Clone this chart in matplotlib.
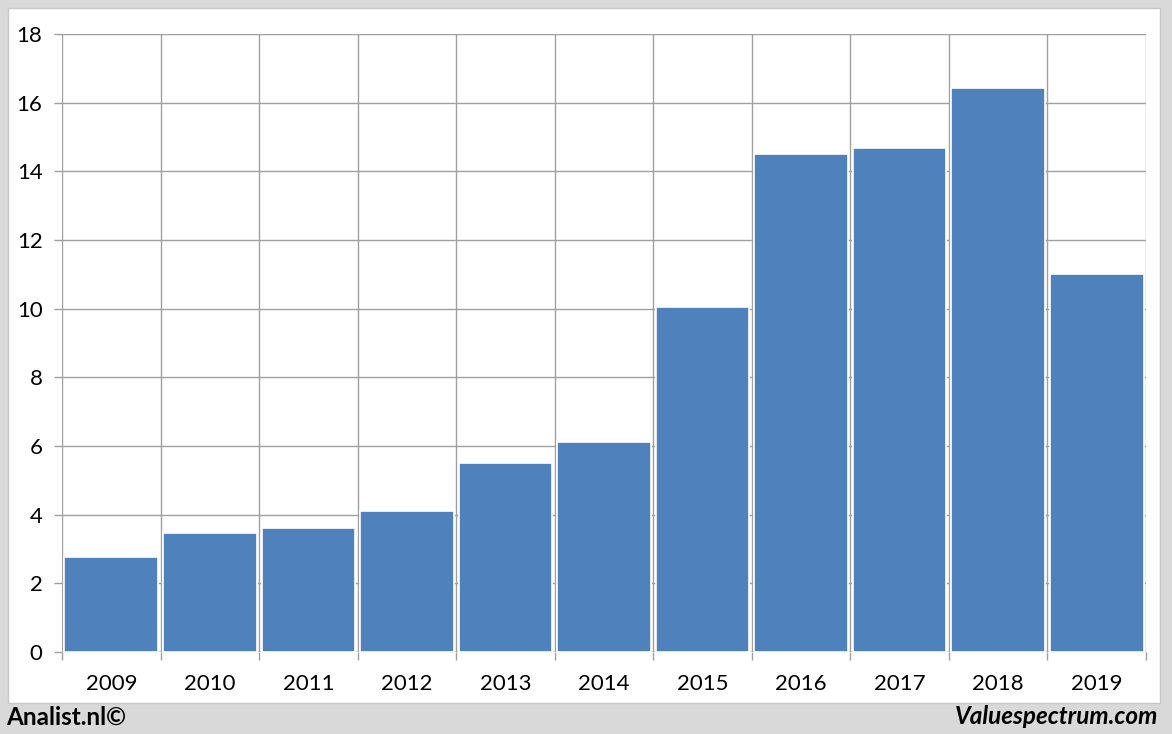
import matplotlib.pyplot as plt
from matplotlib.patches import Rectangle
import numpy as np

years = ["2009", "2010", "2011", "2012", "2013", "2014",
         "2015", "2016", "2017", "2018", "2019"]
values = [2.77, 3.47, 3.61, 4.11, 5.50, 6.12, 10.05, 14.50, 14.68, 16.43, 11.01]

plt.rcParams['font.family'] = ['Lato', 'DejaVu Sans']

W, H = 1172, 734
fig = plt.figure(figsize=(W / 100, H / 100), dpi=100)
fig.patch.set_facecolor("#d9d9d9")

# white chart panel
fig.patches.append(Rectangle((8 / W, 1 - 703 / H), (1160 - 8) / W, (703 - 8) / H,
                             transform=fig.transFigure, facecolor="white",
                             edgecolor="#c8c8c8", linewidth=1, zorder=-5))

ax = fig.add_axes([62 / W, 1 - 652 / H, (1146 - 62) / W, (652 - 34) / H])
ax.set_facecolor("none")

x = np.arange(len(years))
ax.bar(x, values, width=0.95, color="#4f81bd", edgecolor="white", linewidth=1.2, zorder=3)

ax.set_xlim(-0.5, len(years) - 0.5)
ax.set_ylim(0, 18)
ax.set_yticks(np.arange(0, 19, 2))
ax.set_xticks(x)
ax.set_xticklabels(years)
ax.set_xticks(np.arange(-0.5, len(years), 1), minor=True)

grid_col = "#a0a0a0"
ax.grid(axis="y", which="major", color=grid_col, linewidth=1, zorder=1)
ax.grid(axis="x", which="minor", color=grid_col, linewidth=1, zorder=1)
ax.tick_params(axis="x", which="major", length=0, labelsize=16, pad=16)
ax.tick_params(axis="x", which="minor", length=6, color=grid_col, width=1)
ax.tick_params(axis="y", length=6, color=grid_col, width=1, labelsize=16, pad=8)
for s in ax.spines.values():
    s.set_visible(False)
ax.axhline(0, color=grid_col, linewidth=1, zorder=2)

fig.text(6 / W, 1 - 717 / H, "Analist.nl©", fontsize=17.5, fontweight="bold",
         ha="left", va="center")
fig.text(1158 / W, 1 - 717 / H, "Valuespectrum.com", fontsize=17.5, fontweight="bold",
         fontstyle="italic", ha="right", va="center")

fig.savefig("out.png", dpi=100, facecolor=fig.get_facecolor())
